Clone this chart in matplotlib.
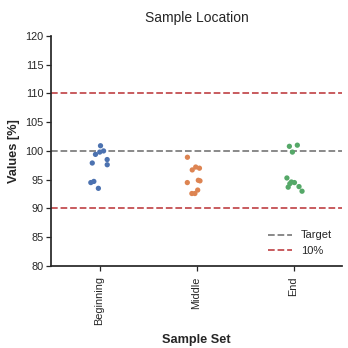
import numpy as np
import pandas as pd
import matplotlib
matplotlib.use("Agg")
import matplotlib.pyplot as plt
import seaborn as sns


CATEGORIES = ["Beginning", "Middle", "End"]

BEGINNING = [100.9, 100.0, 99.4, 99.8, 98.5, 97.6, 97.9, 94.7, 94.5, 93.5]
MIDDLE = [98.9, 97.2, 97.0, 96.7, 94.8, 94.9, 94.5, 93.2, 92.6, 92.6]
END = [100.8, 101.0, 99.8, 95.3, 94.5, 93.8, 94.3, 93.7, 94.6, 93.0]

TARGET = 100
LIMITS = [90, 110]


def main():
    sns.set_theme(style="ticks")
    plt.rcParams["font.family"] = ["Liberation Sans", "DejaVu Sans"]

    df = pd.DataFrame({
        "Sample Set": ["Beginning"] * len(BEGINNING) + ["Middle"] * len(MIDDLE) + ["End"] * len(END),
        "Values": BEGINNING + MIDDLE + END,
    })

    fig = plt.figure(figsize=(3.48, 3.48), dpi=100)
    ax = fig.add_axes([0.1466, 0.2356, 0.8364, 0.6614])

    np.random.seed(3)
    sns.stripplot(
        data=df, x="Sample Set", y="Values", hue="Sample Set",
        order=CATEGORIES, palette="deep", jitter=0.1, size=3.8,
        legend=False, ax=ax,
    )

    ax.axhline(TARGET, color="grey", ls="--", lw=1.3, label="Target")
    ax.axhline(LIMITS[0], color="#C44E52", ls="--", lw=1.3, label="10%")
    ax.axhline(LIMITS[1], color="#C44E52", ls="--", lw=1.3)

    ax.set_ylim(80, 120)
    ax.set_xlim(-0.5, 2.5)
    ax.set_yticks(range(80, 121, 5))
    ax.tick_params(labelsize=7.8, length=3.5, width=0.9, pad=2)
    ax.tick_params(axis="x", pad=4)
    plt.setp(ax.get_xticklabels(), rotation=90)

    ax.set_xlabel("Sample Set", fontsize=9.2, weight="bold", labelpad=6)
    ax.set_ylabel("Values [%]", fontsize=9.2, weight="bold")
    ax.set_title("Sample Location", fontsize=10, pad=10)
    ax.legend(loc="lower right", frameon=False, fontsize=8, handlelength=2.2)
    sns.despine(ax=ax)

    fig.savefig("out.png", dpi=100)
    plt.close(fig)


if __name__ == "__main__":
    main()
